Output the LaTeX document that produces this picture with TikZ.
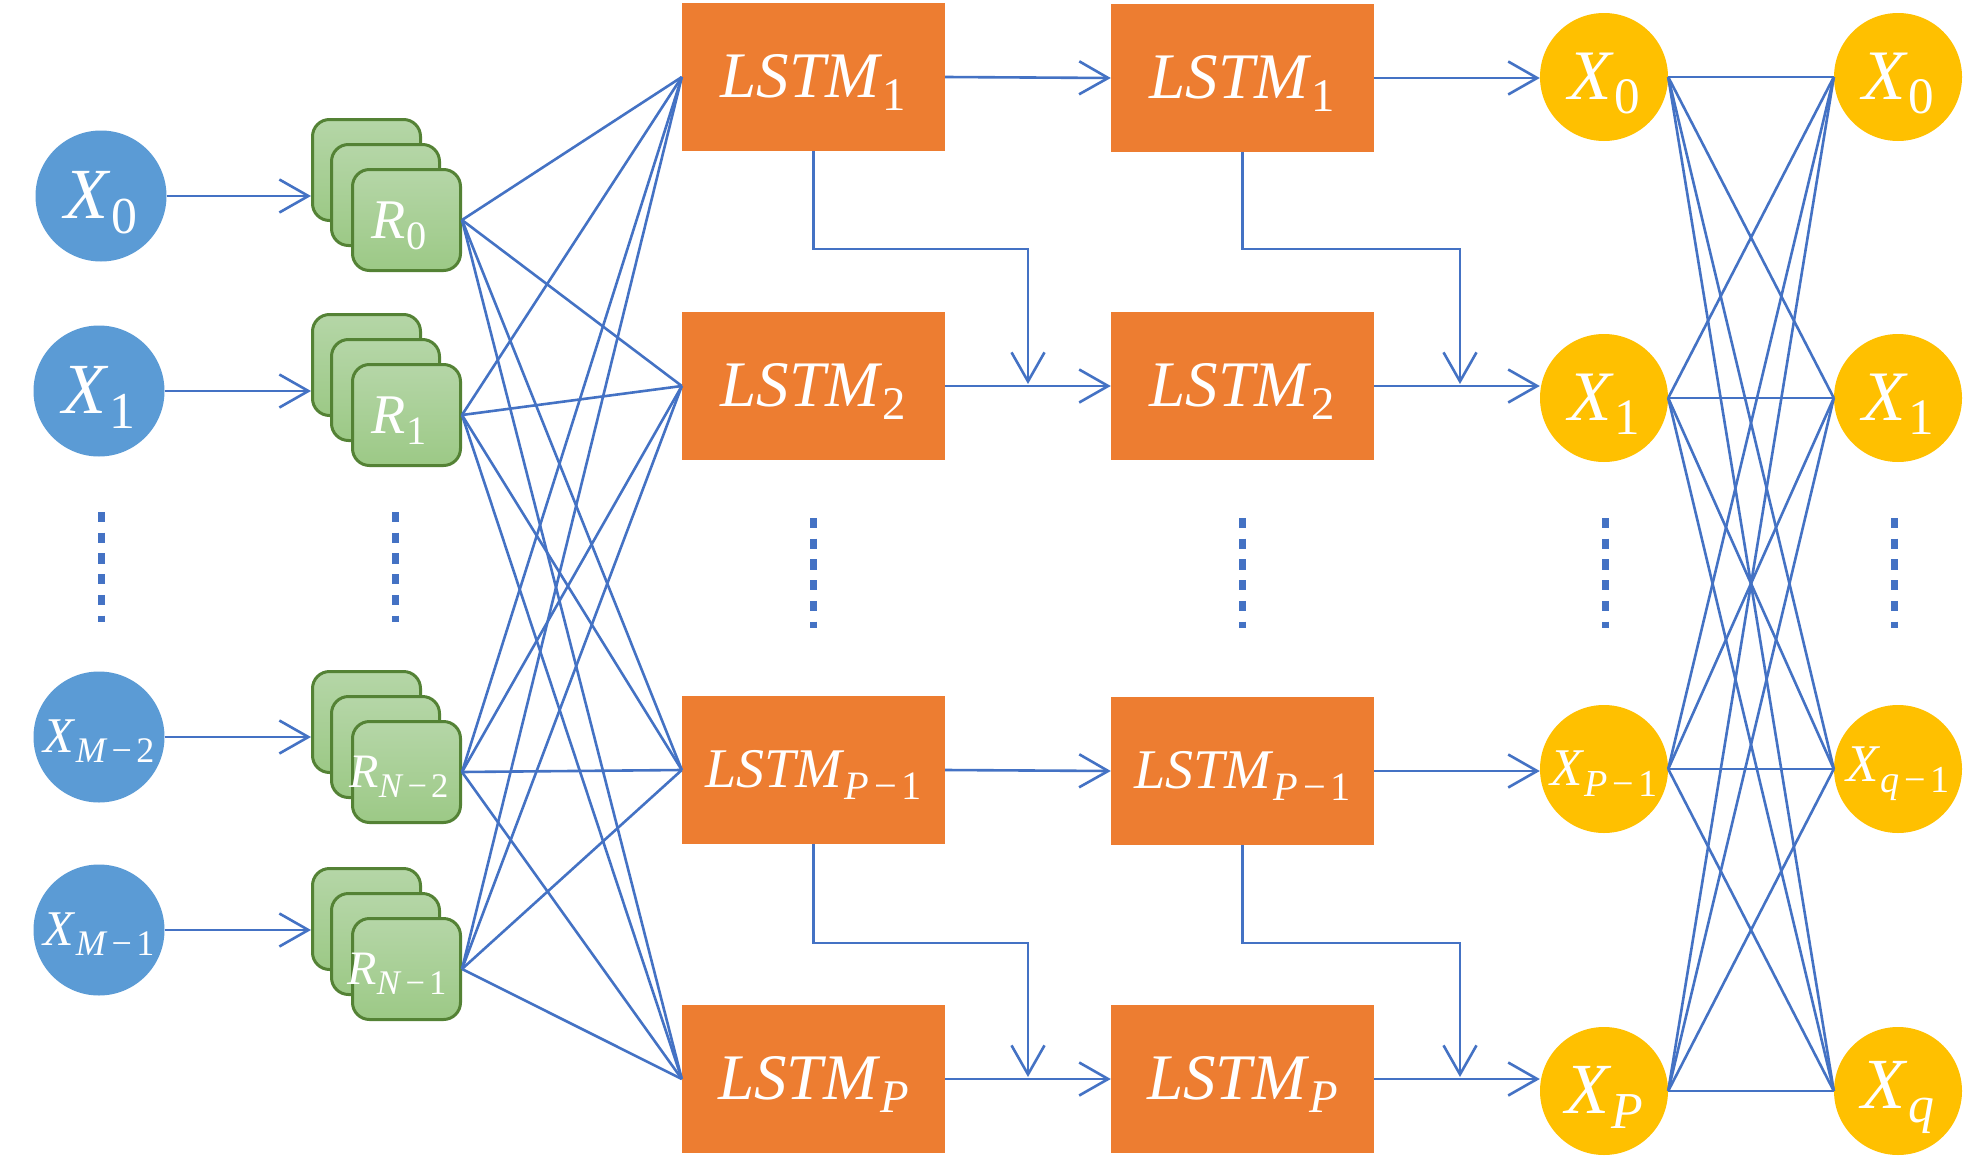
\documentclass[tikz,border=0pt]{standalone}
\usepackage{fontspec}
\setmainfont{Liberation Serif}
\usetikzlibrary{arrows.meta,calc}
\definecolor{cblue}{HTML}{5B9BD5}
\definecolor{corange}{HTML}{ED7D31}
\definecolor{cyellow}{HTML}{FFC000}
\definecolor{cline}{HTML}{4472C4}
\definecolor{cgreenb}{HTML}{548235}
\definecolor{cgreent}{HTML}{B5D6A7}
\definecolor{cgreenbt}{HTML}{9CC986}
\newcommand\fsz[1]{\fontsize{#1}{#1}\selectfont}
\newcommand\mylab[2]{\textit{#1}\raisebox{-0.2em}{\scalebox{0.72}{#2}}}
\newcommand\mylabd[2]{\raisebox{-0.09em}[\height][\depth]{\mylab{#1}{#2}}}
\newcommand\mymin{\kern0.12em−\kern0.12em}
\tikzset{
 bluec/.style={circle, fill=cblue, minimum size=131pt, inner sep=0pt, text=white},
 yelc/.style={circle, fill=cyellow, minimum size=128pt, inner sep=0pt, text=white},
 lstmbox/.style={rectangle, fill=corange, minimum width=263pt, minimum height=148pt, inner sep=0pt, text=white, font=\fsz{65}},
 rbox/.style={rectangle, rounded corners=17pt, draw=cgreenb, line width=3pt, top color=cgreent, bottom color=cgreenbt, minimum width=108pt, minimum height=101pt, inner sep=0pt, anchor=north west},
 rlab/.style={text=white, inner sep=0pt},
 conn/.style={draw=cline, line width=2.6pt},
 arr/.style={conn, -{Straight Barb[length=29pt,width=33pt,line width=2.6pt]}},
 vdots/.style={draw=cline, line width=7pt, dash pattern=on 10.3pt off 10.4pt},
}
\begin{document}
\begin{tikzpicture}[x=1pt,y=-1pt]
\fill[white] (0,0) rectangle (1966,1159);
\useasboundingbox (0,0) rectangle (1966,1159);

% input circles
\node[bluec, font=\fsz{72}] (X0) at (101,196) {\mylabd{X}{0}};
\node[bluec, font=\fsz{72}] (X1) at (99,391) {\mylabd{X}{1}};
\node[bluec, font=\fsz{50}] (XM2) at (99,737) {\mylabd{X}{\textit{M}\mymin 2}};
\node[bluec, font=\fsz{50}] (XM1) at (99,930) {\mylabd{X}{\textit{M}\mymin 1}};

% R stacks
\node[rbox] (R0a) at (311,118) {};
\node[rbox] (R0b) at (330,143) {};
\node[rbox] (R0c) at (351,168) {};
\node[rlab, font=\fsz{56}] (lR0) at (399,226) {\mylab{R}{0}};

\node[rbox] (R1a) at (311,313) {};
\node[rbox] (R1b) at (330,338) {};
\node[rbox] (R1c) at (351,363) {};
\node[rlab, font=\fsz{56}] (lR1) at (399,421) {\mylab{R}{1}};

\node[rbox] (RM2a) at (311,670) {};
\node[rbox] (RM2b) at (330,695) {};
\node[rbox] (RM2c) at (351,720) {};
\node[rlab, font=\fsz{48}] (lRM2) at (399,777) {\mylab{R}{\textit{N}\mymin 2}};

\node[rbox] (RM1a) at (311,867) {};
\node[rbox] (RM1b) at (330,892) {};
\node[rbox] (RM1c) at (351,917) {};
\node[rlab, font=\fsz{48}] (lRM1) at (397,974) {\mylab{R}{\textit{N}\mymin 1}};

% LSTM boxes
\node[lstmbox] (L11) at (813.5,77) {\mylabd{LSTM}{1}};
\node[lstmbox] (L12) at (813.5,386) {\mylabd{LSTM}{2}};
\node[lstmbox, font=\fsz{56}] (L13) at (813.5,770) {\mylabd{LSTM}{\textit{P}\mymin 1}};
\node[lstmbox] (L14) at (813.5,1079) {\mylabd{LSTM}{\textit{P}}};
\node[lstmbox] (L21) at (1242.5,78) {\mylabd{LSTM}{1}};
\node[lstmbox] (L22) at (1242.5,386) {\mylabd{LSTM}{2}};
\node[lstmbox, font=\fsz{56}] (L23) at (1242.5,771) {\mylabd{LSTM}{\textit{P}\mymin 1}};
\node[lstmbox] (L24) at (1242.5,1079) {\mylabd{LSTM}{\textit{P}}};

% output circles
\node[yelc, font=\fsz{71}] (Y1) at (1604,77) {\mylabd{X}{0}};
\node[yelc, font=\fsz{71}] (Y2) at (1604,398) {\mylabd{X}{1}};
\node[yelc, font=\fsz{53}] (Y3) at (1604,769) {\mylabd{X}{\textit{P}\mymin 1}};
\node[yelc, font=\fsz{72}] (Y4) at (1604,1091) {\mylabd{X}{\textit{P}}};
\node[yelc, font=\fsz{71}] (Z1) at (1898,77) {\mylabd{X}{0}};
\node[yelc, font=\fsz{71}] (Z2) at (1898,398) {\mylabd{X}{1}};
\node[yelc, font=\fsz{53}] (Z3) at (1898,769) {\mylabd{X}{\textit{q}\mymin 1}};
\node[yelc, font=\fsz{72}] (Z4) at (1898,1091) {\mylabd{X}{\textit{q}}};

% vertical dots
\draw[vdots] (101,512) -- (101,622);
\draw[vdots] (395,512) -- (395,622);
\draw[vdots] (813,518) -- (813,628);
\draw[vdots] (1242,518) -- (1242,628);
\draw[vdots] (1605,518) -- (1605,628);
\draw[vdots] (1894,518) -- (1894,628);

% inputs to R
\draw[arr] (X0.east) -- (X0.east -| R0a.west);
\draw[arr] (X1.east) -- (X1.east -| R1a.west);
\draw[arr] (XM2.east) -- (XM2.east -| RM2a.west);
\draw[arr] (XM1.east) -- (XM1.east -| RM1a.west);

% R to LSTM (full mesh)
\foreach \r in {R0c,R1c,RM2c,RM1c}{
  \foreach \l in {L11,L12,L13,L14}{
    \draw[conn] (\r.east) -- (\l.west);
  }
}

% LSTM layer 1 to layer 2
\draw[arr] (L11.east) -- (L21.west);
\draw[arr] (L12.east) -- (L22.west);
\draw[arr] (L13.east) -- (L23.west);
\draw[arr] (L14.east) -- (L24.west);

% LSTM layer 2 to outputs
\draw[arr] (L21.east) -- (L21.east -| Y1.west);
\draw[arr] (L22.east) -- (L22.east -| Y2.west);
\draw[arr] (L23.east) -- (L23.east -| Y3.west);
\draw[arr] (L24.east) -- (L24.east -| Y4.west);

% elbow connectors
\coordinate (k1) at (1028,249); \coordinate (e1) at (1028,384);
\coordinate (k2) at (1460,249); \coordinate (e2) at (1460,384);
\coordinate (k3) at (1028,943); \coordinate (e3) at (1028,1077);
\coordinate (k4) at (1460,943); \coordinate (e4) at (1460,1077);
\draw[arr] (L11.south) |- (k1) -- (e1);
\draw[arr] (L21.south) |- (k2) -- (e2);
\draw[arr] (L13.south) |- (k3) -- (e3);
\draw[arr] (L23.south) |- (k4) -- (e4);

% output mesh
\foreach \a in {Y1,Y2,Y3,Y4}{
  \foreach \b in {Z1,Z2,Z3,Z4}{
    \draw[conn] (\a.east) -- (\b.west);
  }
}
\end{tikzpicture}
\end{document}
